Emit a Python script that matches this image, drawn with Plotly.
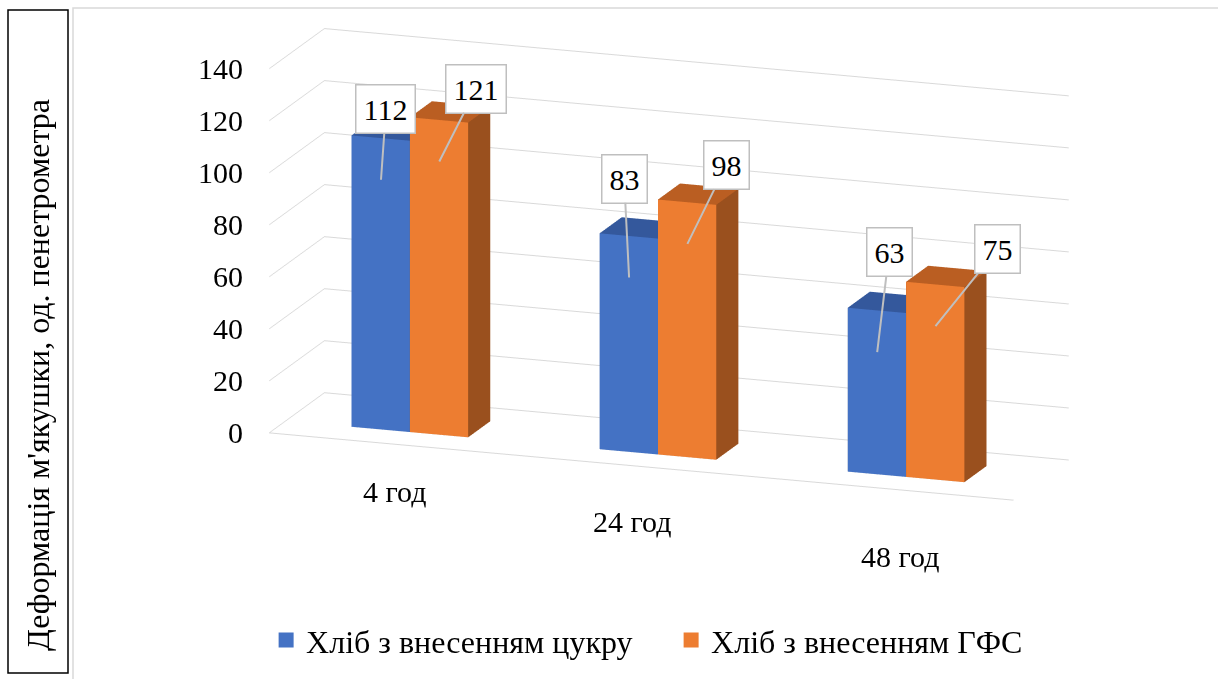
import plotly.graph_objects as go

# ---------------- data ----------------
categories = ["4 год", "24 год", "48 год"]
series_names = ["Хліб з внесенням цукру", "Хліб з внесенням ГФС"]
sugar_values = [112, 83, 63]
gfs_values = [121, 98, 75]
y_ticks = [0, 20, 40, 60, 80, 100, 120, 140]
axis_title = "Деформація м'якушки, од. пенетрометра"

# ---------------- style ----------------
FONT = "Liberation Serif"
BLUE = dict(front="#4472C4", top="#34589C", side="#2F5597")
ORANGE = dict(front="#ED7D31", top="#BA5E22", side="#9A501E")
GRID = "#D9D9D9"
BAR_W = 0.235
Y0, Y1 = 0.30, 0.70


def bars_mesh(values, offset, pal, name):
    xs, ys, zs, ii, jj, kk, fc = [], [], [], [], [], [], []
    for c, v in enumerate(values):
        x0 = c + offset
        x1 = x0 + BAR_W
        base = len(xs)
        xs += [x0, x1, x1, x0, x0, x1, x1, x0]
        ys += [Y0, Y0, Y1, Y1, Y0, Y0, Y1, Y1]
        zs += [0, 0, 0, 0, v, v, v, v]
        faces = [
            ((0, 1, 5), pal["front"]), ((0, 5, 4), pal["front"]),
            ((4, 5, 6), pal["top"]), ((4, 6, 7), pal["top"]),
            ((1, 2, 6), pal["side"]), ((1, 6, 5), pal["side"]),
            ((0, 3, 7), pal["side"]), ((0, 7, 4), pal["side"]),
            ((3, 2, 6), pal["side"]), ((3, 6, 7), pal["side"]),
            ((0, 1, 2), pal["side"]), ((0, 2, 3), pal["side"]),
        ]
        for (a, b, d), col in faces:
            ii.append(base + a); jj.append(base + b); kk.append(base + d); fc.append(col)
    return go.Mesh3d(
        x=xs, y=ys, z=zs, i=ii, j=jj, k=kk, facecolor=fc, flatshading=True,
        lighting=dict(ambient=1.0, diffuse=0.0, specular=0.0, roughness=1.0, fresnel=0.0),
        hoverinfo="skip", showlegend=False, name=name, scene="scene",
    )


fig = go.Figure()
fig.add_trace(bars_mesh(sugar_values, -BAR_W, BLUE, series_names[0]))
fig.add_trace(bars_mesh(gfs_values, 0.0, ORANGE, series_names[1]))

# legend proxies
for nm, col in zip(series_names, [BLUE["front"], ORANGE["front"]]):
    fig.add_trace(go.Scatter(x=[None], y=[None], mode="markers", name=nm,
                             marker=dict(symbol="square", size=15, color=col)))

# data label callouts
label_offsets_sugar = [(5, -71), (-5, -99), (12, -100)]
label_offsets_gfs = [(37, -73), (39, -79), (62, -77)]
scene_ann = []
for vals, off, offs in [(sugar_values, -BAR_W / 2, label_offsets_sugar),
                        (gfs_values, BAR_W / 2, label_offsets_gfs)]:
    for c, v in enumerate(vals):
        scene_ann.append(dict(
            x=c + off, y=Y0, z=v - 16, text=str(v), showarrow=True, arrowhead=0,
            arrowwidth=2, arrowcolor="#BFBFBF", ax=offs[c][0], ay=offs[c][1],
            bgcolor="white", bordercolor="#BFBFBF", borderwidth=1.5, borderpad=7,
            font=dict(family=FONT, size=30, color="black")))
# category labels
cat_shifts = [(1, -47), (-10, -55), (10, -68)]
for c, cat in enumerate(categories):
    scene_ann.append(dict(x=c, y=0, z=0, text=cat, showarrow=False,
                          xshift=cat_shifts[c][0], yshift=cat_shifts[c][1],
                          font=dict(family=FONT, size=30, color="black")))
# value-axis tick labels
for t in y_ticks:
    scene_ann.append(dict(x=-0.5, y=0, z=t, text=str(t), showarrow=False,
                          xanchor="right", xshift=-25,
                          font=dict(family=FONT, size=30, color="black")))

noaxis = dict(showgrid=False, showticklabels=False, ticks="", zeroline=False,
              showbackground=False, showspikes=False, title=dict(text=""))
fig.update_layout(
    width=1218, height=679, margin=dict(l=0, r=0, t=0, b=0),
    template="none", paper_bgcolor="white", plot_bgcolor="white",
    xaxis=dict(visible=False, domain=[0, 0.01]), yaxis=dict(visible=False, domain=[0, 0.01]),
    scene=dict(
        domain=dict(x=[0.107, 0.992], y=[0.19, 1.0]),
        xaxis=dict(noaxis, range=[-0.5, 2.5], showline=True, linecolor=GRID, linewidth=2),
        yaxis=dict(noaxis, range=[0, 1], showline=False),
        zaxis=dict(range=[0, 140], tickvals=y_ticks, showgrid=True, gridcolor=GRID, gridwidth=2,
                   showticklabels=False, ticks="",
                   showline=False, zeroline=False, showbackground=False, showspikes=False,
                   title=dict(text="")),
        aspectmode="manual", aspectratio=dict(x=2.87, y=0.604, z=1.37),
        camera=dict(eye=dict(x=0.465, y=-1.319, z=0.331), up=dict(x=0, y=0, z=1),
                    center=dict(x=0, y=0, z=-0.04), projection=dict(type="orthographic")),
        bgcolor="rgba(0,0,0,0)",
        annotations=scene_ann,
    ),
    legend=dict(orientation="h", x=0.551, xanchor="center", y=0.057, yanchor="middle",
                font=dict(family=FONT, size=32, color="black"), bgcolor="rgba(0,0,0,0)",
                entrywidth=360),
    showlegend=True,
    annotations=[dict(text=axis_title, xref="paper", yref="paper", x=38 / 1218,
                      y=1 - 375 / 679, xanchor="center", yanchor="middle",
                      textangle=-90, showarrow=False,
                      font=dict(family=FONT, size=32, color="black"))],
    shapes=[
        dict(type="rect", xref="paper", yref="paper", x0=73 / 1218, x1=1.01,
             y0=-0.01, y1=1 - 8 / 679, line=dict(color=GRID, width=1.5), layer="above"),
        dict(type="rect", xref="paper", yref="paper", x0=8 / 1218, x1=68 / 1218,
             y0=1 - 673 / 679, y1=1 - 10 / 679, line=dict(color="black", width=1.5),
             layer="above"),
    ],
)

fig.write_html("out.html", config={"displayModeBar": False})
